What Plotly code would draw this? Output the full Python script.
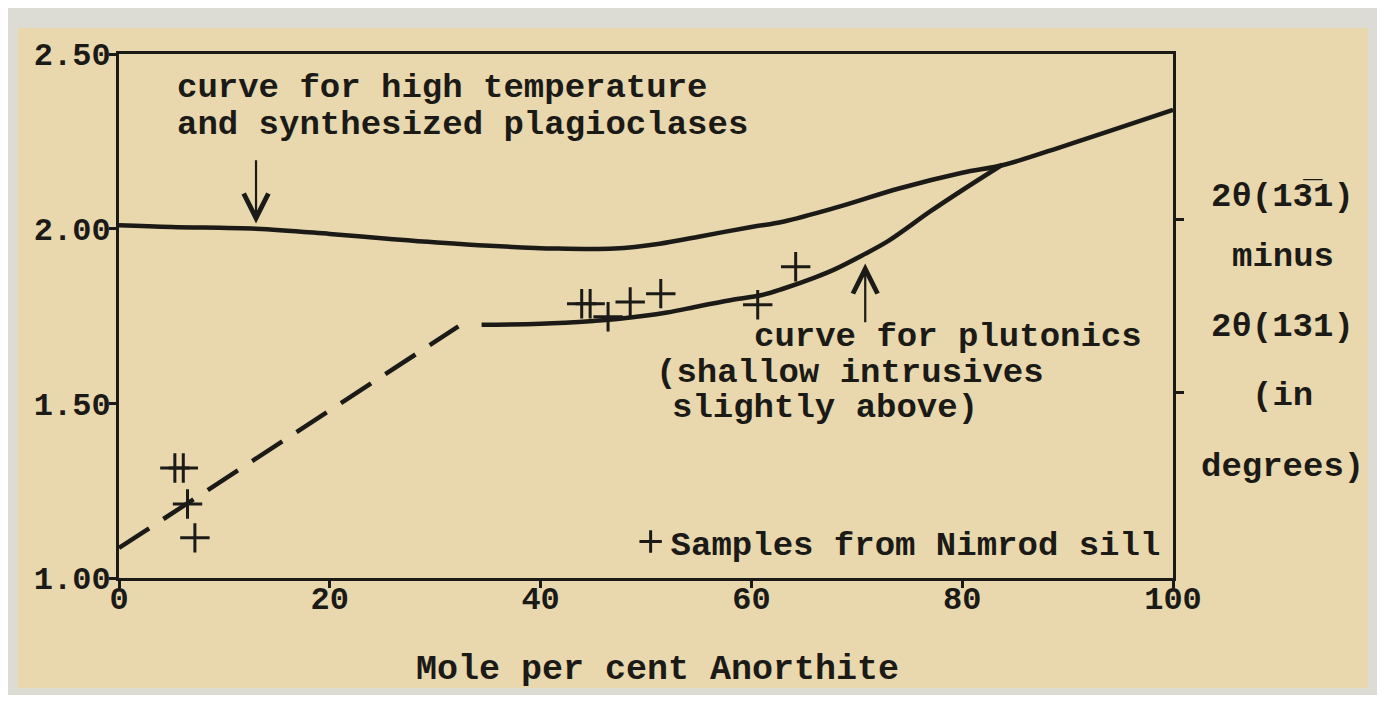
import plotly.graph_objects as go

# ---- data ----
high_x = [0, 5, 13, 20, 26, 33, 41.5, 47, 51.3, 55, 60, 63, 68, 74, 80, 84, 90, 100]
high_y = [2.01, 2.005, 2.0, 1.985, 1.97, 1.955, 1.943, 1.943, 1.957, 1.977, 2.005, 2.02,
          2.06, 2.115, 2.16, 2.183, 2.24, 2.34]

plut_x = [34.4, 40, 45, 47.5, 52, 55, 58, 61, 63, 66, 68, 70.6, 73, 77, 80, 83.8]
plut_y = [1.725, 1.728, 1.736, 1.742, 1.76, 1.778, 1.795, 1.81, 1.828, 1.86, 1.885, 1.925,
          1.965, 2.05, 2.11, 2.183]

dash_x = [0, 32.2]
dash_y = [1.086, 1.72]

sample_x = [5.3, 6.1, 6.5, 7.2, 43.9, 44.7, 46.4, 48.5, 51.4, 60.6, 64.2]
sample_y = [1.315, 1.315, 1.212, 1.115, 1.785, 1.785, 1.748, 1.79, 1.814, 1.782, 1.891]

x_ticks = [0, 20, 40, 60, 80, 100]
y_ticks = [1.0, 1.5, 2.0, 2.5]
right_ticks = [1.53, 2.026]

right_label_lines = ["2\u03b8(13\u03051)", "minus", "2\u03b8(131)", "(in", "degrees)"]
right_label_y = [0.727, 0.613, 0.479, 0.347, 0.212]

FONT = "Liberation Mono, Courier New, monospace"
INK = "#1b1a17"
PAPER = "#e9d8ad"

fig = go.Figure()

fig.add_trace(go.Scatter(x=high_x, y=high_y, mode="lines", line=dict(color=INK, width=4.5, shape="spline"),
                         showlegend=False, hoverinfo="skip"))
fig.add_trace(go.Scatter(x=plut_x, y=plut_y, mode="lines", line=dict(color=INK, width=4.5, shape="spline"),
                         showlegend=False, hoverinfo="skip"))
fig.add_trace(go.Scatter(x=dash_x, y=dash_y, mode="lines", line=dict(color=INK, width=4.5, dash="36px,17px"),
                         showlegend=False, hoverinfo="skip"))
fig.add_trace(go.Scatter(x=sample_x, y=sample_y, mode="markers", name="Samples from Nimrod sill",
                         marker=dict(symbol="cross-thin", size=21, color=INK, line=dict(color=INK, width=3)),
                         showlegend=True))
# invisible trace to carry the right axis
fig.add_trace(go.Scatter(x=[0], y=[1.0], yaxis="y2", mode="markers", marker=dict(opacity=0),
                         showlegend=False, hoverinfo="skip"))

fig.update_layout(
    width=1369, height=687,
    margin=dict(l=111, r=204, t=46, b=117),
    paper_bgcolor="#efeee9",
    plot_bgcolor=PAPER,
    font=dict(family=FONT, color=INK),
    xaxis=dict(range=[0, 100], tickvals=x_ticks, ticks="outside", ticklen=7, tickwidth=2.5,
               tickcolor=INK, showline=True, linecolor=INK, linewidth=3, mirror=True,
               showgrid=False, zeroline=False, ticklabelstandoff=-17,
               tickfont=dict(family=FONT, size=32, color=INK, weight="bold")),
    yaxis=dict(range=[1.0, 2.5], tickvals=y_ticks, tickformat=".2f", ticks="outside", ticklen=7,
               tickwidth=2.5, tickcolor=INK, showline=True, linecolor=INK, linewidth=3,
               showgrid=False, zeroline=False, ticklabelstandoff=-8,
               tickfont=dict(family=FONT, size=32, color=INK, weight="bold")),
    yaxis2=dict(range=[1.0, 2.5], overlaying="y", side="right", tickvals=right_ticks,
                showticklabels=False, ticks="outside", ticklen=8, tickwidth=2.5, tickcolor=INK,
                showline=True, linecolor=INK, linewidth=3, showgrid=False, zeroline=False),
    legend=dict(x=0.993, xanchor="right", y=0.069, yanchor="middle", bgcolor="rgba(0,0,0,0)",
                font=dict(family=FONT, size=34, color=INK, weight="bold"), itemwidth=30,
                tracegroupgap=0),
    showlegend=True,
)

# paper sheet background
fig.add_shape(type="rect", xref="paper", yref="paper", x0=-0.11, x1=1.21, y0=-0.24, y1=1.09,
              fillcolor="#dcdbd4", line=dict(width=0), layer="below")
fig.add_shape(type="rect", xref="paper", yref="paper", x0=-0.0958, x1=1.185, y0=-0.2099, y1=1.0496,
              fillcolor=PAPER, line=dict(width=0), layer="below")

ann_font = dict(family=FONT, size=34, color=INK, weight="bold")

for txt, xp, yp in [("curve for high temperature", 0.053, 0.935),
                    ("and synthesized plagioclases", 0.053, 0.865),
                    ("curve for plutonics", 0.6006, 0.46),
                    ("(shallow intrusives", 0.5076, 0.391),
                    ("slightly above)", 0.523, 0.324)]:
    fig.add_annotation(text=txt, x=xp, y=yp, xref="paper", yref="paper", xanchor="left",
                       yanchor="middle", showarrow=False, font=ann_font)

for txt, yp in zip(right_label_lines, right_label_y):
    fig.add_annotation(text=txt, x=1.104, y=yp, xref="paper", yref="paper", xanchor="center",
                       yanchor="middle", showarrow=False, font=ann_font)

# axis title
fig.add_annotation(text="Mole per cent Anorthite", x=0.511, y=-0.176, xref="paper", yref="paper",
                   xanchor="center", yanchor="middle", showarrow=False,
                   font=dict(family=FONT, size=35, color=INK, weight="bold"))

# arrows
fig.add_annotation(x=13, y=2.015, ax=13, ay=2.2, xref="x", yref="y", axref="x", ayref="y",
                   text="", showarrow=True, arrowhead=5, arrowsize=2.2, arrowwidth=2.2, arrowcolor=INK)
fig.add_annotation(x=70.8, y=1.90, ax=70.8, ay=1.728, xref="x", yref="y", axref="x", ayref="y",
                   text="", showarrow=True, arrowhead=5, arrowsize=2.2, arrowwidth=2.2, arrowcolor=INK)

fig.write_html("out.html")
